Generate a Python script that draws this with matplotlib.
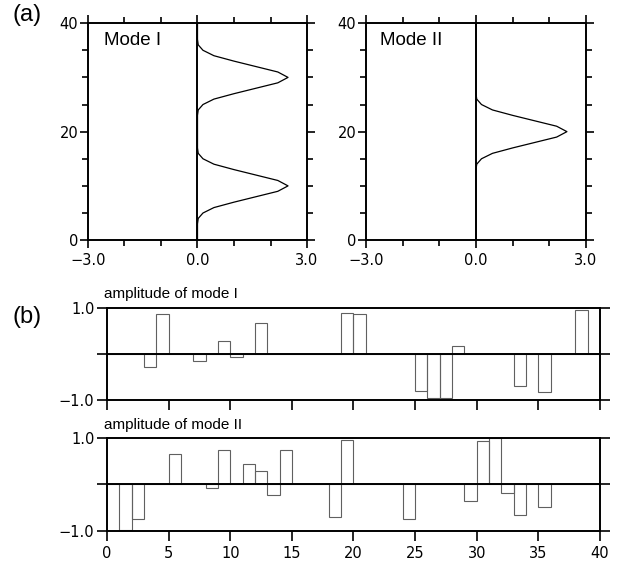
import numpy as np
import matplotlib
matplotlib.use("Agg")
import matplotlib.pyplot as plt

# vertical profiles of the two modes (value at each level 0..40)
depth = list(range(41))
mode1 = [0, 0, 0, 0, 0.02, 0.15, 0.45, 1.0, 1.6, 2.2, 2.48, 2.2, 1.6, 1.0, 0.45, 0.15, 0.02,
         0, 0, 0, 0, 0, 0, 0,
         0.02, 0.15, 0.45, 1.0, 1.6, 2.2, 2.48, 2.2, 1.6, 1.0, 0.45, 0.15, 0.02,
         0, 0, 0, 0]
mode2 = [0, 0, 0, 0, 0, 0, 0, 0, 0, 0, 0, 0, 0, 0,
         0.02, 0.15, 0.45, 1.0, 1.6, 2.2, 2.48, 2.2, 1.6, 1.0, 0.45, 0.15, 0.02,
         0, 0, 0, 0, 0, 0, 0, 0, 0, 0, 0, 0, 0, 0]

# amplitudes, bar i covers [i, i+1]
amp1 = [0, 0, 0, -0.28, 0.87, 0, 0, -0.15, 0, 0.28,
        -0.07, 0, 0.67, 0, 0, 0, 0, 0, 0, 0.88,
        0.86, 0, 0, 0, 0, -0.80, -0.96, -0.96, 0.17, 0,
        0, 0, 0, -0.70, 0, -0.83, 0, 0, 0.95, 0]
amp2 = [0, -0.98, -0.73, 0, 0, 0.65, 0, 0, -0.07, 0.74,
        0, 0.43, 0.30, -0.22, 0.74, 0, 0, 0, -0.69, 0.95,
        0, 0, 0, 0, -0.74, 0, 0, 0, 0, -0.35,
        0.93, 0.99, -0.18, -0.66, 0, -0.48, 0, 0, 0, 0]
index = list(range(40))

plt.rcParams['font.family'] = 'DejaVu Sans'
lab = 'Liberation Sans'
lw = 1.4

fig = plt.figure(figsize=(6.24, 5.65), dpi=100)

def style_top(ax):
    ax.set_xlim(-3, 3)
    ax.set_ylim(0, 40)
    ax.set_xticks([-3, 0, 3])
    ax.set_xticklabels(['\u22123.0', '0.0', '3.0'])
    ax.set_xticks([-2, -1, 1, 2], minor=True)
    ax.set_yticks([0, 20, 40])
    ax.set_yticks([5, 10, 15, 25, 30, 35], minor=True)
    ax.tick_params(which='both', direction='out', top=True, right=True,
                   width=1.2, labelsize=10.5)
    ax.tick_params(which='major', length=6)
    ax.tick_params(which='minor', length=4)
    ax.tick_params(axis='y', pad=1)
    ax.tick_params(axis='x', pad=3)
    for s in ax.spines.values():
        s.set_linewidth(lw)
    ax.axvline(0, color='k', lw=lw)

ax1 = fig.add_axes([0.141, 0.575, 0.351, 0.384])
ax1.plot(mode1, depth, color='k', lw=0.9)
style_top(ax1)
ax1.text(0.073, 0.92, 'Mode I', transform=ax1.transAxes, family=lab,
         fontsize=13.5, va='center', ha='left')

ax2 = fig.add_axes([0.5865, 0.575, 0.3526, 0.384])
ax2.plot(mode2, depth, color='k', lw=0.9)
style_top(ax2)
ax2.text(0.064, 0.92, 'Mode II', transform=ax2.transAxes, family=lab,
         fontsize=13.5, va='center', ha='left')

def style_bot(ax, labels):
    ax.set_xlim(0, 40)
    ax.set_ylim(-1, 1)
    ax.set_xticks(range(0, 41, 5))
    if not labels:
        ax.set_xticklabels([])
    ax.set_yticks([-1, 0, 1])
    ax.set_yticklabels(['\u22121.0', '', '1.0'])
    ax.tick_params(direction='out', right=True, width=1.2, length=7,
                   labelsize=10.5)
    ax.tick_params(axis='y', pad=2)
    for s in ax.spines.values():
        s.set_linewidth(lw)
    ax.axhline(0, color='k', lw=lw, zorder=3)

ax3 = fig.add_axes([0.1715, 0.292, 0.790, 0.163])
ax3.bar(index, amp1, width=1, align='edge', fill=False, edgecolor='#606060', lw=0.8)
style_bot(ax3, False)
ax3.text(-0.006, 1.07, 'amplitude of mode I', transform=ax3.transAxes,
         family=lab, fontsize=11, va='bottom', ha='left')

ax4 = fig.add_axes([0.1715, 0.060, 0.790, 0.165])
ax4.bar(index, amp2, width=1, align='edge', fill=False, edgecolor='#606060', lw=0.8)
style_bot(ax4, True)
ax4.text(-0.006, 1.06, 'amplitude of mode II', transform=ax4.transAxes,
         family=lab, fontsize=11, va='bottom', ha='left')

fig.text(12 / 624, 1 - 15 / 565, '(a)', family=lab, fontsize=17, va='center', ha='left')
fig.text(12 / 624, 1 - 317 / 565, '(b)', family=lab, fontsize=17, va='center', ha='left')

fig.savefig('out.png', dpi=100)
